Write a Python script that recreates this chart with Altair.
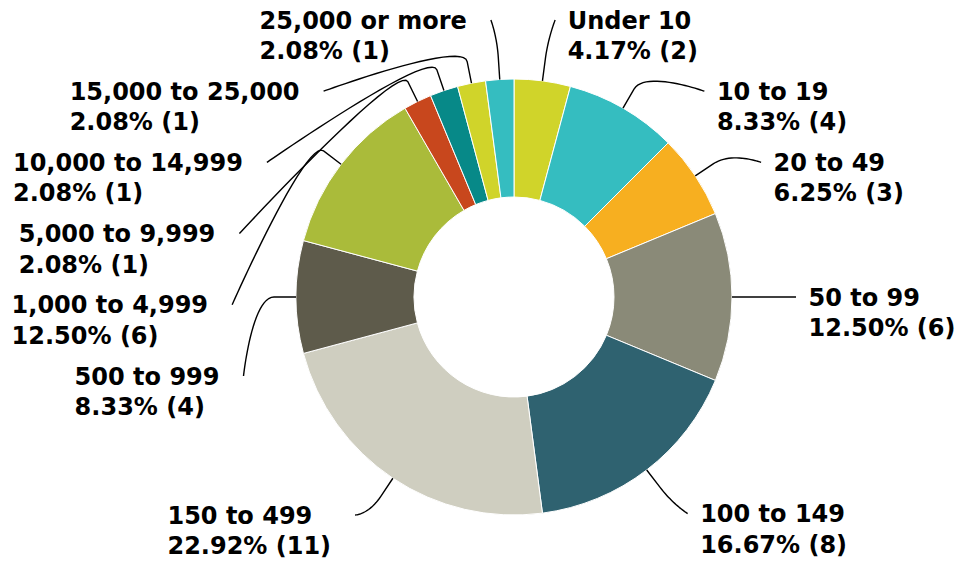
import math
import altair as alt
import pandas as pd

# ---------------- data ----------------
categories = ["Under 10", "10 to 19", "20 to 49", "50 to 99", "100 to 149", "150 to 499",
              "500 to 999", "1,000 to 4,999", "5,000 to 9,999", "10,000 to 14,999",
              "15,000 to 25,000", "25,000 or more"]
counts = [2, 4, 3, 6, 8, 11, 4, 6, 1, 1, 1, 1]
colors = ["#D0D42A", "#35BDC0", "#F7AF20", "#8A8A78", "#2F6270", "#CFCEC0",
          "#5E5B4B", "#AABB3A", "#C8471D", "#078988", "#D0D42A", "#35BDC0"]

# ---------------- layout constants ----------------
W, H = 948, 553
CX, CY = 506, 289
R_OUT, R_IN = 218, 100
R_BREAK = 240
R_LABEL = 277
R_LABEL_Y = 273
PAD = 5
GAP = 71.2
TOP, BOTTOM = 12, 507
LINE_H = 30.5
FONT_SIZE = 24
GAP_RIGHT, GAP_LEFT = 12.5, 24
TEXT_DY = 1.5

# DejaVu Sans Bold advance widths (em)
CHAR_W = {" ": 0.348, ",": 0.380, ".": 0.380, "%": 1.002, "(": 0.457, ")": 0.457,
          "o": 0.687, "r": 0.493, "m": 1.042, "e": 0.678, "t": 0.478, "U": 0.812,
          "n": 0.712, "d": 0.716}


def text_width(s):
    return sum(CHAR_W.get(c, 0.696) for c in s) * FONT_SIZE


total = sum(counts)
pie_df = pd.DataFrame({"idx": range(len(categories)), "category": categories, "count": counts})

# ---------------- label layout ----------------
mids = []
acc = 0
for c in counts:
    mids.append(math.radians((acc + c / 2) / total * 360))
    acc += c

lines1 = categories
lines2 = [f"{100 * c / total:.2f}% ({c})" for c in counts]


def distribute(items):
    clusters = []
    for idx, ny in sorted(items, key=lambda t: t[1]):
        clusters.append({"ids": [idx], "nat": [ny], "start": ny})
        while True:
            c = clusters[-1]
            n = len(c["ids"])
            mean = sum(c["nat"]) / n
            start = max(TOP, mean - GAP * (n - 1) / 2)
            start = min(start, BOTTOM - GAP * (n - 1))
            c["start"] = start
            if len(clusters) > 1:
                p = clusters[-2]
                pend = p["start"] + GAP * (len(p["ids"]) - 1)
                if pend + GAP > c["start"]:
                    p["ids"] += c["ids"]
                    p["nat"] += c["nat"]
                    clusters.pop()
                    continue
            break
    out = {}
    for c in clusters:
        for k, idx in enumerate(c["ids"]):
            out[idx] = c["start"] + GAP * k
    return out


right_items, left_items = [], []
for i, a in enumerate(mids):
    ny = CY - R_LABEL_Y * math.cos(a)
    (right_items if math.sin(a) > 1e-9 else left_items).append((i, ny))
label_y = {}
label_y.update(distribute(right_items))
label_y.update(distribute(left_items))

line_rows, text_rows = [], []
for i, a in enumerate(mids):
    s, c = math.sin(a), math.cos(a)
    right = s > 1e-9
    sign = 1 if right else -1
    y = label_y[i]
    if y < CY - R_OUT + 2 or y > CY + R_OUT - 2:
        dx = R_LABEL * abs(s)
    else:
        dx = math.sqrt(max(R_LABEL ** 2 - (y - CY) ** 2, 0))
    ex = CX + sign * (dx + PAD)
    base = (CX + R_OUT * s, CY - R_OUT * c)
    brk = (CX + R_BREAK * s, CY - R_BREAK * c)
    p0 = (ex, y)
    p1 = (ex, y)
    p2 = (2 * brk[0] - base[0], 2 * brk[1] - base[1])
    p3 = brk
    n = 24
    k = 0
    for j in range(n + 1):
        t = j / n
        bx = (1 - t) ** 3 * p0[0] + 3 * (1 - t) ** 2 * t * p1[0] + 3 * (1 - t) * t ** 2 * p2[0] + t ** 3 * p3[0]
        by = (1 - t) ** 3 * p0[1] + 3 * (1 - t) ** 2 * t * p1[1] + 3 * (1 - t) * t ** 2 * p2[1] + t ** 3 * p3[1]
        line_rows.append({"seg": i, "ord": k, "x": bx, "y": by})
        k += 1
    line_rows.append({"seg": i, "ord": k, "x": base[0], "y": base[1]})

    if right:
        lx = ex + GAP_RIGHT
    else:
        bw = max(text_width(lines1[i]), text_width(lines2[i]))
        lx = ex - GAP_LEFT - bw
    text_rows.append({"x": lx, "y": y, "text": lines1[i]})
    text_rows.append({"x": lx, "y": y + LINE_H, "text": lines2[i]})

line_df = pd.DataFrame(line_rows)
text_df = pd.DataFrame(text_rows)

xs = alt.Scale(domain=[0, W], range=[0, W], nice=False, zero=False)
ys = alt.Scale(domain=[0, H], range=[0, H], nice=False, zero=False)

arcs = alt.Chart(pie_df).mark_arc(outerRadius=R_OUT, innerRadius=R_IN, stroke="white", strokeWidth=1).encode(
    theta=alt.Theta("count:Q", stack=True),
    order=alt.Order("idx:Q"),
    color=alt.Color("category:N", scale=alt.Scale(domain=categories, range=colors), legend=None),
    x=alt.value(CX),
    y=alt.value(CY),
)

leaders = alt.Chart(line_df).mark_line(color="black", strokeWidth=1.4).encode(
    x=alt.X("x:Q", scale=xs, axis=None),
    y=alt.Y("y:Q", scale=ys, axis=None),
    detail="seg:N",
    order="ord:Q",
)

labels = alt.Chart(text_df).mark_text(
    align="left", baseline="middle", font="DejaVu Sans", fontWeight="bold",
    fontSize=FONT_SIZE, color="black", dy=TEXT_DY
).encode(
    x=alt.X("x:Q", scale=xs, axis=None),
    y=alt.Y("y:Q", scale=ys, axis=None),
    text="text:N",
)

chart = alt.layer(arcs, leaders, labels).properties(
    width=W, height=H, padding=0,
    autosize=alt.AutoSizeParams(type="none"),
).configure_view(stroke=None)

chart.save("out.html", embed_options={"renderer": "svg", "actions": False})
